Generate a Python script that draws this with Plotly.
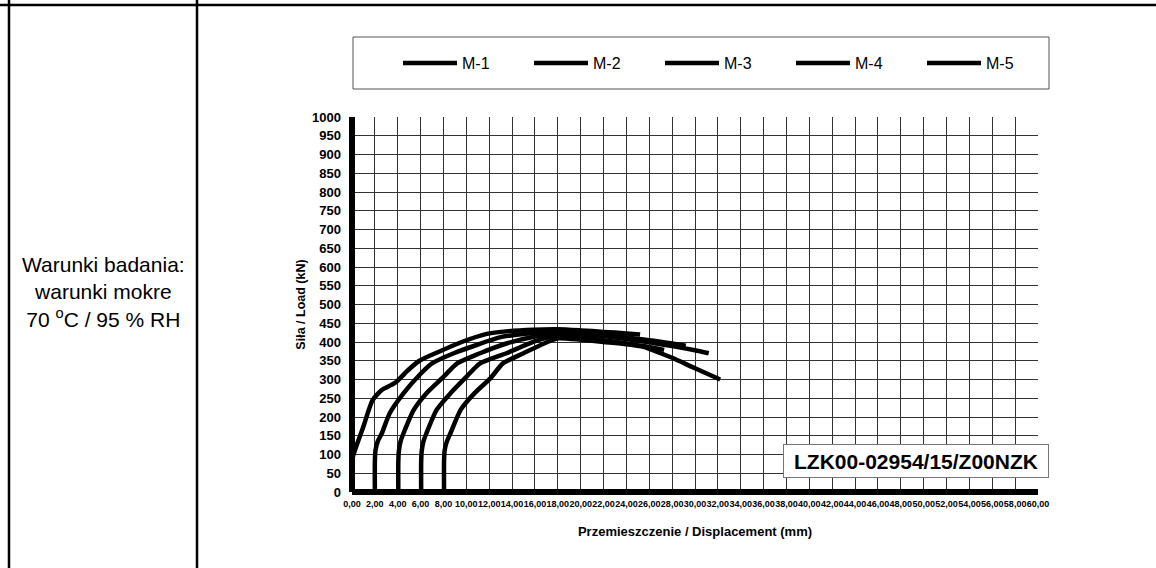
import plotly.graph_objects as go

# ---------------- data ----------------
series_names = ["M-1", "M-2", "M-3", "M-4", "M-5"]

m1_x = [0.0, 0.05, 0.3, 1.0, 1.8, 2.6, 3.4, 3.9, 4.8, 5.9, 7.6, 9.6, 11.7, 13.7, 15.9, 18.0, 20.0, 22.0, 24.0, 25.2]
m1_y = [0, 90, 115, 175, 245, 272, 285, 294, 322, 350, 374, 400, 421, 429, 433, 434, 431, 427, 423, 420]

m2_x = [2.0, 2.0, 2.05, 2.25, 2.6, 3.3, 4.5, 5.9, 7.0, 8.9, 10.9, 13.0, 15.9, 18.0, 20.0, 22.0, 24.0, 26.0, 28.0, 29.2]
m2_y = [0, 80, 110, 135, 156, 210, 263, 312, 343, 370, 392, 413, 424, 428, 425, 419, 412, 405, 396, 390]

m3_x = [4.05, 4.05, 4.1, 4.25, 4.5, 5.4, 6.5, 8.0, 9.2, 11.2, 13.5, 15.9, 18.0, 20.0, 22.0, 24.0, 26.0, 28.0, 30.0, 31.2]
m3_y = [0, 80, 110, 135, 156, 219, 263, 307, 343, 370, 396, 414, 423, 422, 416, 408, 399, 389, 378, 370]

m4_x = [6.05, 6.05, 6.1, 6.25, 6.5, 7.4, 8.6, 10.0, 11.2, 13.5, 15.9, 18.0, 20.0, 22.0, 24.0, 26.0, 27.3]
m4_y = [0, 80, 110, 135, 156, 219, 263, 307, 343, 370, 401, 418, 413, 405, 396, 387, 379]

m5_x = [8.05, 8.05, 8.1, 8.3, 8.6, 9.5, 10.7, 12.1, 13.2, 15.0, 16.8, 18.0, 20.0, 22.0, 24.0, 25.5, 27.0, 28.0, 30.0, 32.2]
m5_y = [0, 80, 110, 135, 156, 219, 263, 303, 343, 370, 396, 410, 406, 400, 394, 387, 370, 358, 330, 300]

x_tick_values = [i * 2 for i in range(31)]
x_tick_labels = [f"{v},00" for v in x_tick_values]
y_tick_values = [i * 50 for i in range(21)]
y_tick_labels = [str(v) for v in y_tick_values]

sample_id = "LZK00-02954/15/Z00NZK"
conditions_text = "Warunki badania:<br>warunki mokre<br>70 <sup>o</sup>C / 95 % RH"
x_title = "Przemieszczenie / Displacement (mm)"
y_title = "Siła / Load (kN)"

# ---------------- figure ----------------
W, H = 1156, 568
L, R, T, B = 352, 118, 117, 76
PW, PH = W - L - R, H - T - B


def px_x(p):
    return (p - L) / PW


def px_y(p):
    return (H - B - p) / PH


FONT = "Liberation Sans, Arial, sans-serif"

fig = go.Figure()
for name, xs, ys in zip(series_names,
                        [m1_x, m2_x, m3_x, m4_x, m5_x],
                        [m1_y, m2_y, m3_y, m4_y, m5_y]):
    fig.add_trace(go.Scatter(x=xs, y=ys, mode="lines", name=name,
                             line=dict(color="black", width=4.5, shape="spline", smoothing=0.6)))

fig.update_layout(
    width=W, height=H,
    margin=dict(l=L, r=R, t=T, b=B, pad=0),
    paper_bgcolor="white", plot_bgcolor="white",
    font=dict(family=FONT, color="black"),
    showlegend=True,
    legend=dict(orientation="h", x=px_x(398), y=px_y(63), xanchor="left", yanchor="middle",
                font=dict(size=16, family=FONT, color="black"),
                itemwidth=54, entrywidth=62, bgcolor="rgba(0,0,0,0)", borderwidth=0,
                traceorder="normal"),
    xaxis=dict(range=[0, 60], tickvals=x_tick_values, ticktext=x_tick_labels,
               showgrid=True, gridcolor="#333333", gridwidth=1,
               zeroline=True, zerolinecolor="black", zerolinewidth=6,
               showline=False, ticks="", tickangle=0, ticklabelstandoff=5,
               tickfont=dict(size=9, weight="bold", family=FONT),
               title=dict(text=x_title, font=dict(size=13, weight="bold", family=FONT), standoff=18),
               fixedrange=True),
    yaxis=dict(range=[0, 1000], tickvals=y_tick_values, ticktext=y_tick_labels,
               showgrid=True, gridcolor="#333333", gridwidth=1,
               zeroline=True, zerolinecolor="black", zerolinewidth=6,
               showline=False, ticks="", ticklabelstandoff=10,
               tickfont=dict(size=13, weight="bold", family=FONT),
               title=dict(text=y_title, font=dict(size=12.5, weight="bold", family=FONT), standoff=3),
               fixedrange=True),
)

# legend frame
fig.add_shape(type="rect", xref="paper", yref="paper",
              x0=px_x(353), x1=px_x(1049), y0=px_y(89), y1=px_y(37),
              line=dict(color="#555555", width=1), fillcolor="rgba(0,0,0,0)", layer="below")

# table frame lines
fig.add_shape(type="line", xref="paper", yref="paper", x0=px_x(0), x1=px_x(W), y0=px_y(5), y1=px_y(5),
              line=dict(color="black", width=2.5))
fig.add_shape(type="line", xref="paper", yref="paper", x0=px_x(9), x1=px_x(9), y0=px_y(0), y1=px_y(H),
              line=dict(color="black", width=2.5))
fig.add_shape(type="line", xref="paper", yref="paper", x0=px_x(197), x1=px_x(197), y0=px_y(0), y1=px_y(H),
              line=dict(color="black", width=2.5))

# conditions text
fig.add_annotation(xref="paper", yref="paper", x=px_x(103), y=px_y(292),
                   xanchor="center", yanchor="middle",
                   text=conditions_text, showarrow=False, align="center",
                   font=dict(size=21, family=FONT, color="black"))

# sample id box
fig.add_annotation(xref="paper", yref="paper", x=px_x(916), y=px_y(461),
                   xanchor="center", yanchor="middle",
                   text=sample_id, showarrow=False,
                   font=dict(size=21, weight="bold", family=FONT, color="black"),
                   bgcolor="white", bordercolor="#777777", borderwidth=1, borderpad=2,
                   width=260, height=28)

fig.write_html("out.html")
